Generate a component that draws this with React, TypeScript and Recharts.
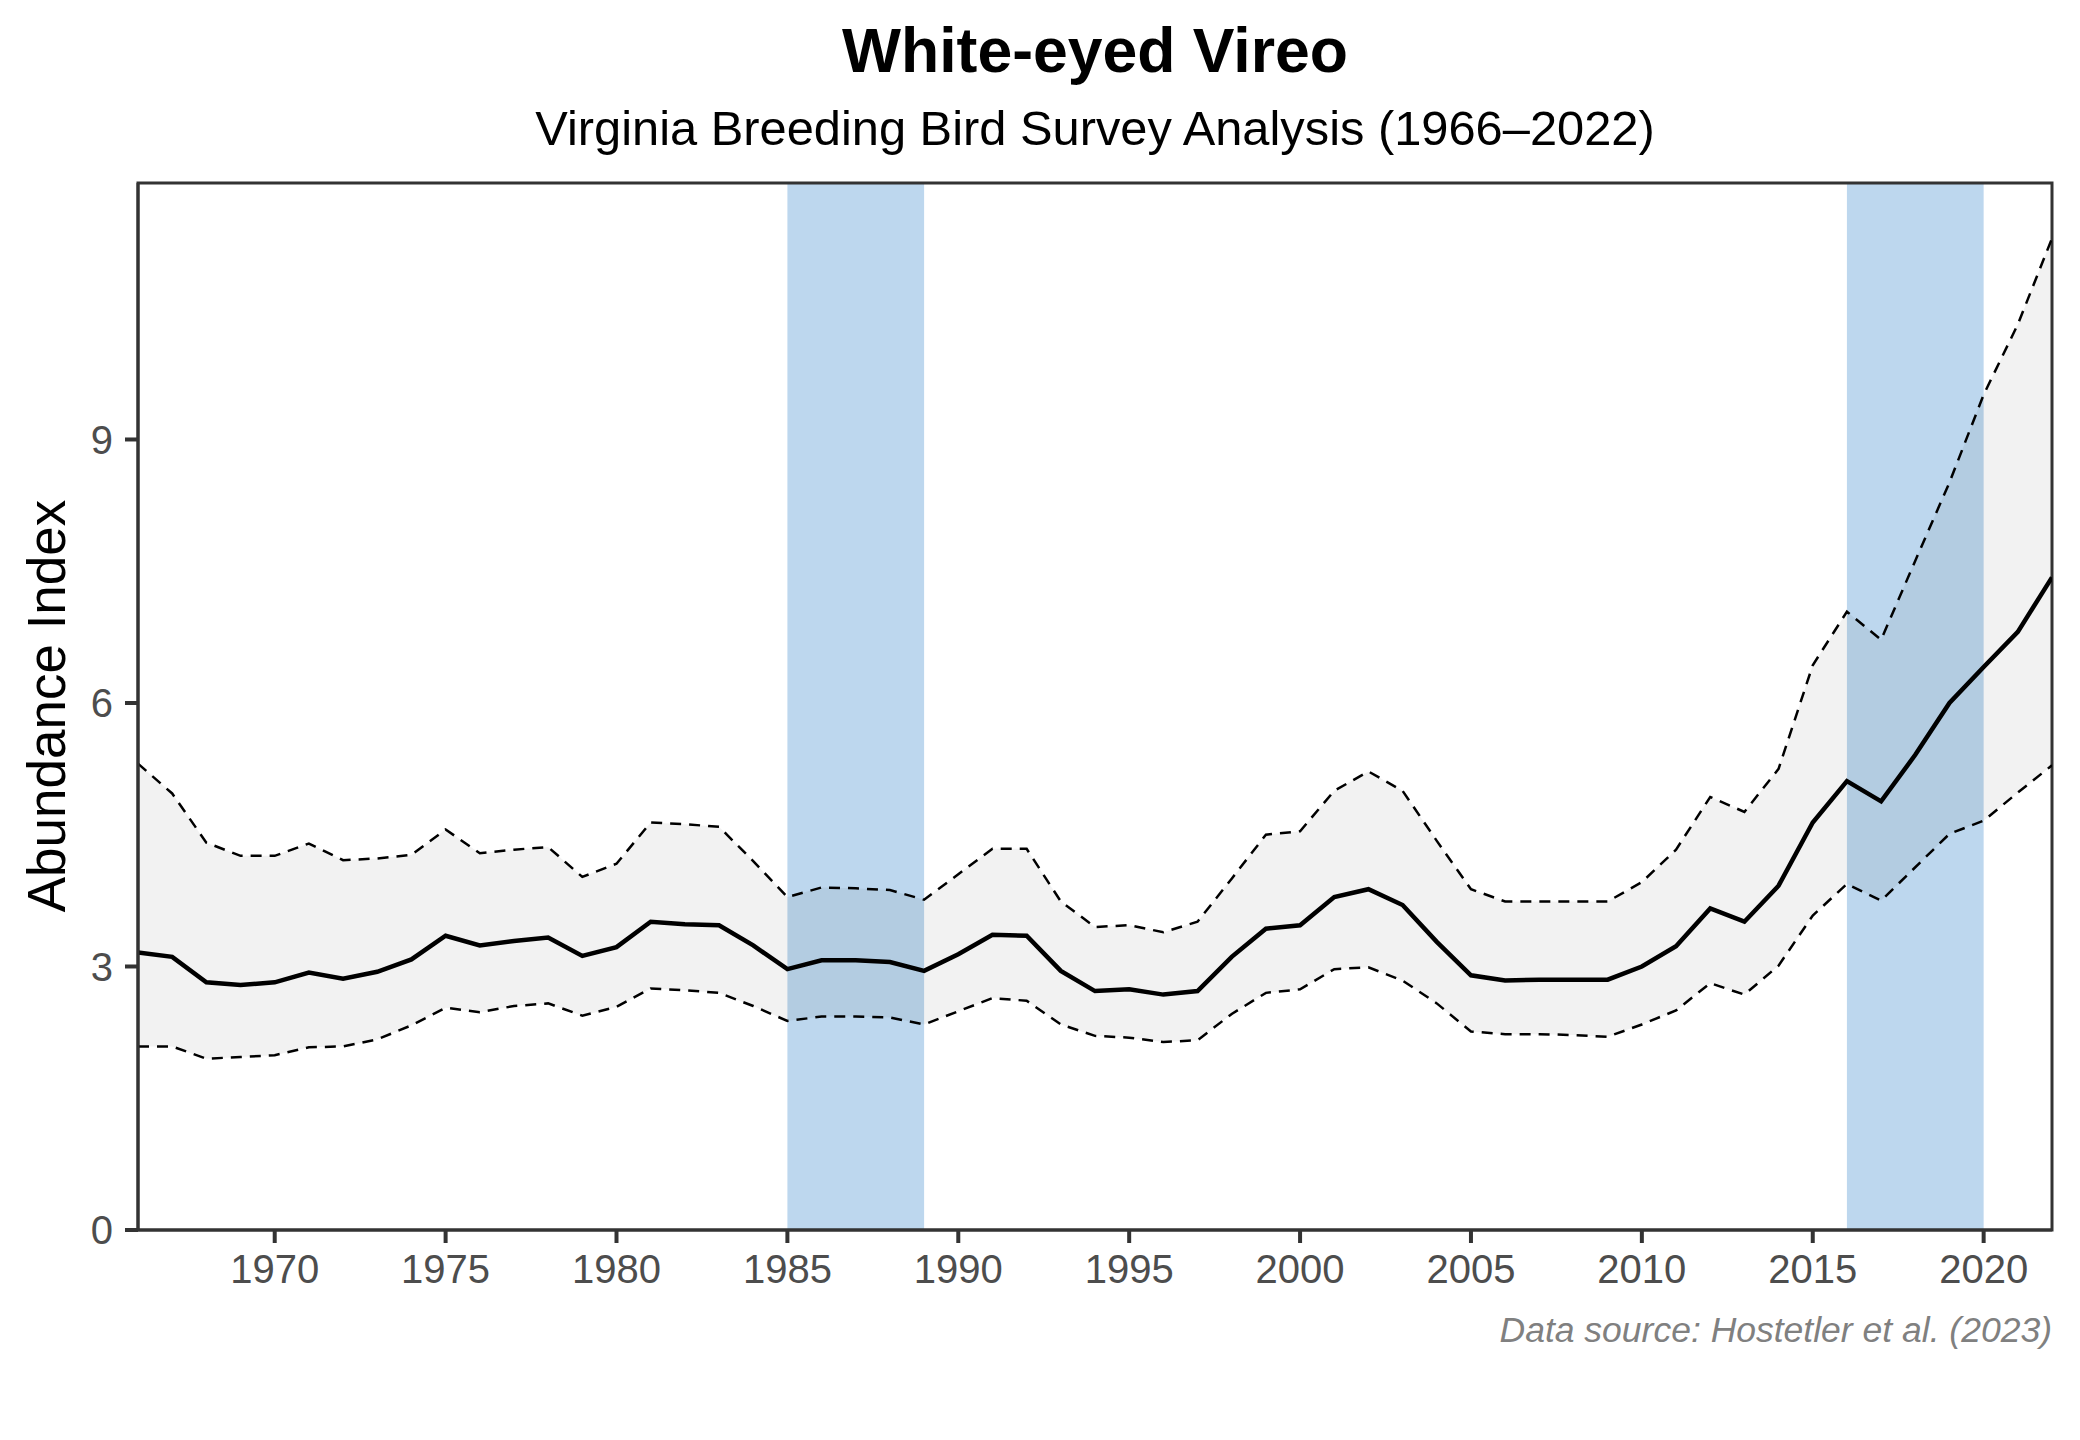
import {
  Area,
  ComposedChart,
  Line,
  ReferenceArea,
  XAxis,
  YAxis,
} from "recharts";

const years = [
  1966, 1967, 1968, 1969, 1970, 1971, 1972, 1973, 1974, 1975, 1976, 1977, 1978, 1979, 1980,
  1981, 1982, 1983, 1984, 1985, 1986, 1987, 1988, 1989, 1990, 1991, 1992, 1993, 1994, 1995,
  1996, 1997, 1998, 1999, 2000, 2001, 2002, 2003, 2004, 2005, 2006, 2007, 2008, 2009, 2010,
  2011, 2012, 2013, 2014, 2015, 2016, 2017, 2018, 2019, 2020, 2021, 2022,
];

const abundance = [
  3.16, 3.11, 2.82, 2.79, 2.82, 2.93, 2.86, 2.94, 3.08, 3.35, 3.24, 3.29, 3.33, 3.12, 3.22,
  3.51, 3.48, 3.47, 3.24, 2.97, 3.07, 3.07, 3.05, 2.95, 3.14, 3.36, 3.35, 2.95, 2.72, 2.74,
  2.68, 2.72, 3.11, 3.43, 3.47, 3.79, 3.88, 3.7, 3.28, 2.9, 2.84, 2.85, 2.85, 2.85, 3.0,
  3.23, 3.66, 3.51, 3.92, 4.64, 5.11, 4.88, 5.41, 6.0, 6.41, 6.81, 7.43,
];

const upperCI = [
  5.31, 4.97, 4.41, 4.26, 4.26, 4.4, 4.21, 4.23, 4.27, 4.56, 4.29, 4.33, 4.36, 4.02, 4.17,
  4.64, 4.62, 4.59, 4.2, 3.79, 3.9, 3.89, 3.87, 3.76, 4.05, 4.34, 4.34, 3.74, 3.45, 3.47,
  3.39, 3.51, 4.0, 4.5, 4.54, 5.0, 5.22, 5.0, 4.43, 3.88, 3.74, 3.74, 3.74, 3.74, 3.96,
  4.33, 4.93, 4.76, 5.25, 6.43, 7.04, 6.72, 7.62, 8.51, 9.51, 10.31, 11.29,
];

const lowerCI = [
  2.09, 2.09, 1.95, 1.97, 1.99, 2.08, 2.09, 2.17, 2.33, 2.53, 2.48, 2.55, 2.58, 2.44, 2.54,
  2.75, 2.73, 2.7, 2.55, 2.38, 2.43, 2.43, 2.42, 2.34, 2.49, 2.64, 2.61, 2.34, 2.21, 2.19,
  2.14, 2.16, 2.46, 2.7, 2.74, 2.97, 2.99, 2.84, 2.58, 2.26, 2.23, 2.23, 2.22, 2.2, 2.34,
  2.5, 2.81, 2.68, 3.01, 3.58, 3.94, 3.75, 4.13, 4.51, 4.66, 4.98, 5.29,
];

// highlighted survey periods
const periods = [
  { start: 1985, end: 1989 },
  { start: 2016, end: 2020 },
];

const xTicks = [1970, 1975, 1980, 1985, 1990, 1995, 2000, 2005, 2010, 2015, 2020];
const yTicks = [0, 3, 6, 9];

const font = "'Liberation Sans', Arial, sans-serif";

export default function App() {
  const data = years.map((year, i) => ({
    year,
    mean: abundance[i],
    upper: upperCI[i],
    lower: lowerCI[i],
    ribbon: [lowerCI[i], upperCI[i]],
  }));

  return (
    <div
      style={{
        position: "absolute",
        left: 0,
        top: 0,
        width: 2080,
        height: 1440,
        background: "#fff",
        fontFamily: font,
      }}
    >
      <div
        style={{
          position: "absolute",
          left: 138,
          width: 1914,
          top: 19,
          textAlign: "center",
          fontSize: 62.5,
          lineHeight: 1,
          fontWeight: "bold",
          color: "#000",
        }}
      >
        White-eyed Vireo
      </div>
      <div
        style={{
          position: "absolute",
          left: 138,
          width: 1914,
          top: 104,
          textAlign: "center",
          fontSize: 48.8,
          lineHeight: 1,
          color: "#000",
        }}
      >
        Virginia Breeding Bird Survey Analysis (1966–2022)
      </div>
      <div
        style={{
          position: "absolute",
          left: 46,
          top: 706,
          transform: "translate(-50%, -50%) rotate(-90deg)",
          fontSize: 53,
          lineHeight: 1,
          whiteSpace: "nowrap",
          color: "#000",
        }}
      >
        Abundance Index
      </div>
      <div
        style={{
          position: "absolute",
          right: 28,
          top: 1313,
          fontSize: 35.5,
          lineHeight: 1,
          fontStyle: "italic",
          color: "#808080",
        }}
      >
        Data source: Hostetler et al. (2023)
      </div>

      <div style={{ position: "absolute", left: 0, top: 0 }}>
        <ComposedChart
          width={2080}
          height={1440}
          data={data}
          margin={{ top: 183, right: 28, bottom: 150, left: 0 }}
        >
          <XAxis
            dataKey="year"
            type="number"
            domain={[1966, 2022]}
            ticks={xTicks}
            allowDataOverflow
            height={60}
            tickSize={13}
            tickMargin={12}
            axisLine={{ stroke: "#333333", strokeWidth: 3 }}
            tickLine={{ stroke: "#333333", strokeWidth: 4 }}
            tick={{ fill: "#4D4D4D", fontSize: 40, fontFamily: font }}
          />
          <YAxis
            type="number"
            domain={[0, 11.92]}
            ticks={yTicks}
            allowDataOverflow
            width={138}
            tickSize={13}
            tickMargin={12}
            axisLine={{ stroke: "#333333", strokeWidth: 3 }}
            tickLine={{ stroke: "#333333", strokeWidth: 4 }}
            tick={{ fill: "#4D4D4D", fontSize: 40, fontFamily: font }}
          />
          {periods.map((p) => (
            <ReferenceArea
              key={p.start}
              x1={p.start}
              x2={p.end}
              y1={0}
              y2={11.92}
              fill="#BDD7EE"
              fillOpacity={1}
              stroke="none"
            />
          ))}
          <Area
            dataKey="ribbon"
            type="linear"
            fill="#000000"
            fillOpacity={0.05}
            stroke="none"
            isAnimationActive={false}
          />
          <Line
            dataKey="upper"
            type="linear"
            stroke="#000"
            strokeWidth={2.5}
            strokeDasharray="11 8"
            dot={false}
            isAnimationActive={false}
          />
          <Line
            dataKey="lower"
            type="linear"
            stroke="#000"
            strokeWidth={2.5}
            strokeDasharray="11 8"
            dot={false}
            isAnimationActive={false}
          />
          <Line
            dataKey="mean"
            type="linear"
            stroke="#000"
            strokeWidth={4.5}
            dot={false}
            isAnimationActive={false}
          />
          <ReferenceArea
            x1={1966}
            x2={2022}
            y1={0}
            y2={11.92}
            fill="none"
            stroke="#333333"
            strokeWidth={3}
          />
        </ComposedChart>
      </div>
    </div>
  );
}
